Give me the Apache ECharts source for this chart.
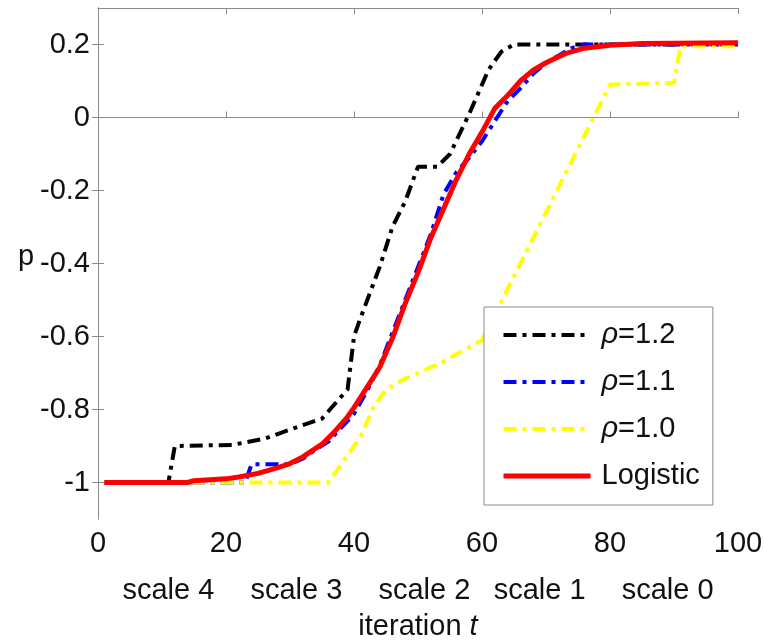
<!DOCTYPE html>
<html>
<head>
<meta charset="utf-8">
<script src="https://cdn.jsdelivr.net/npm/echarts@6/dist/echarts.min.js"></script>
<style>
  html, body { margin: 0; padding: 0; background: #fff; }
  #chart { width: 764px; height: 642px; }
</style>
</head>
<body>
<div id="chart"></div>
<script>
// values, [iteration t, p]
const rho12 = [
  [1, -1], [11, -1], [12, -0.9], [21, -0.897], [26, -0.88], [30, -0.855],
  [35, -0.825], [39, -0.745], [40, -0.6], [41, -0.55], [44, -0.41], [46, -0.3],
  [48, -0.23], [50, -0.135], [53, -0.135], [55, -0.1], [58, 0.01], [61, 0.13],
  [63, 0.18], [65, 0.2], [100, 0.2]
]
const rho11 = [
  [1, -1], [23, -1], [24, -0.95], [30, -0.95], [32, -0.935], [34, -0.91],
  [36, -0.888], [38, -0.85], [40, -0.812], [42, -0.75], [44, -0.68], [46, -0.59],
  [48, -0.5], [50, -0.41], [52, -0.32], [54, -0.21], [56, -0.15], [58, -0.11],
  [60, -0.065], [62, -0.01], [64, 0.045], [66, 0.08], [68, 0.12], [70, 0.149],
  [72, 0.17], [74, 0.19], [76, 0.2], [100, 0.2]
]
const rho10 = [
  [1, -1], [36, -1], [37, -0.975], [41, -0.875], [43, -0.795], [45, -0.745],
  [48, -0.715], [53, -0.677], [60, -0.61], [80, 0.09], [90, 0.095], [91, 0.195],
  [100, 0.195]
]
const logistic = [
  [1, -1], [14, -1], [15, -0.995], [20, -0.99], [22, -0.985], [25, -0.975],
  [28, -0.96], [30, -0.948], [32, -0.93], [35, -0.895], [37, -0.86], [39, -0.82],
  [40, -0.795], [42, -0.74], [44, -0.685], [46, -0.605], [48, -0.51], [50, -0.425],
  [52, -0.33], [54, -0.25], [56, -0.17], [58, -0.1], [60, -0.04], [62, 0.025],
  [64, 0.06], [66, 0.1], [68, 0.13], [70, 0.15], [73, 0.175], [76, 0.19],
  [80, 0.198], [85, 0.203], [100, 0.205]
]
const seriesNames = ['ρ=1.2', 'ρ=1.1', 'ρ=1.0', 'Logistic']
const seriesColors = ['#000000', '#0000ff', '#ffff00', '#ff0000']
const yTicks = [-1, -0.8, -0.6, -0.4, -0.2, 0, 0.2]
const scalePos = [11, 31, 51, 69, 89]
const scaleLabels = ['scale 4', 'scale 3', 'scale 2', 'scale 1', 'scale 0']

const font = 'Liberation Sans, Arial, sans-serif'
const axisGrey = '#8a8a8a'
const textColor = '#111'
const fs = 29
const dashDot = [13, 6, 4, 6]
const lineWidths = [4, 4, 4, 5]
const lineTypes = [dashDot, dashDot, dashDot, 'solid']

const chart = echarts.init(document.getElementById('chart'))

const boxAxis = {
  type: 'value',
  min: 0,
  max: 100,
  interval: 20,
  axisLine: { show: true, lineStyle: { color: axisGrey, width: 1 } },
  axisTick: { show: true, inside: true, length: 6, lineStyle: { color: axisGrey } },
  splitLine: { show: false },
}

const option = {
  animation: false,
  backgroundColor: '#fff',
  textStyle: { fontFamily: font },
  grid: { left: 98, right: 26, top: 8, bottom: 123, containLabel: false, outerBoundsMode: 'none' },
  legend: {
    orient: 'vertical',
    left: 484,
    top: 307,
    data: seriesNames.map((name, i) => ({
      name,
      lineStyle: { width: lineWidths[i], type: lineTypes[i], color: seriesColors[i] },
    })),
    itemWidth: 87,
    itemHeight: 30,
    itemGap: 17,
    padding: [13, 13, 14, 17],
    backgroundColor: '#fff',
    borderColor: axisGrey,
    borderWidth: 1,
    borderRadius: 0,
    itemStyle: { opacity: 0 },
    formatter: (name) => (name.startsWith('ρ') ? '{i|ρ}' + name.slice(1) : name),
    textStyle: {
      fontFamily: font,
      fontSize: fs,
      color: textColor,
      lineHeight: 30,
      padding: [0, 0, 0, 6],
      rich: { i: { fontStyle: 'italic', fontSize: fs, fontFamily: font, color: textColor } },
    },
  },
  xAxis: [
    {
      ...boxAxis,
      position: 'bottom',
      axisLabel: { fontSize: fs, color: textColor, margin: 10, fontFamily: font },
      name: '{a|iteration }{b|t}',
      nameLocation: 'middle',
      nameGap: 93,
      nameTextStyle: {
        rich: {
          a: { fontSize: fs, color: textColor, fontFamily: font },
          b: { fontSize: fs, color: textColor, fontFamily: font, fontStyle: 'italic' },
        },
      },
    },
    {
      type: 'value',
      min: 0,
      max: 100,
      position: 'bottom',
      offset: 48,
      axisLine: { show: false },
      axisTick: { show: false },
      splitLine: { show: false },
      axisLabel: {
        customValues: scalePos,
        formatter: (v) => scaleLabels[scalePos.indexOf(v)] || '',
        fontSize: fs,
        color: textColor,
        margin: 9,
        fontFamily: font,
      },
    },
    { ...boxAxis, position: 'top', axisLabel: { show: false } },
  ],
  yAxis: [
    {
      type: 'value',
      min: -1.1,
      max: 0.3,
      position: 'left',
      axisLine: { show: true, lineStyle: { color: axisGrey, width: 1 } },
      axisTick: { show: true, inside: true, length: 6, customValues: yTicks, lineStyle: { color: axisGrey } },
      axisLabel: { customValues: yTicks, fontSize: fs, color: textColor, margin: 8, fontFamily: font },
      splitLine: { show: false },
      name: 'p',
      nameLocation: 'middle',
      nameRotate: 0,
      nameGap: 63,
      nameTextStyle: { fontSize: fs, color: textColor, fontFamily: font, verticalAlign: 'bottom', lineHeight: 14 },
    },
    {
      type: 'value',
      min: -1.1,
      max: 0.3,
      position: 'right',
      axisLine: { show: true, lineStyle: { color: axisGrey, width: 1 } },
      axisTick: { show: true, inside: true, length: 6, customValues: yTicks, lineStyle: { color: axisGrey } },
      axisLabel: { show: false },
      splitLine: { show: false },
    },
  ],
  series: [rho12, rho11, rho10, logistic].map((data, i) => ({
    name: seriesNames[i],
    type: 'line',
    data,
    color: seriesColors[i],
    lineStyle: { width: lineWidths[i], type: lineTypes[i] },
    xAxisIndex: 0,
    yAxisIndex: 0,
    symbol: 'none',
    smooth: false,
  })),
}

chart.setOption(option)
</script>
</body>
</html>
